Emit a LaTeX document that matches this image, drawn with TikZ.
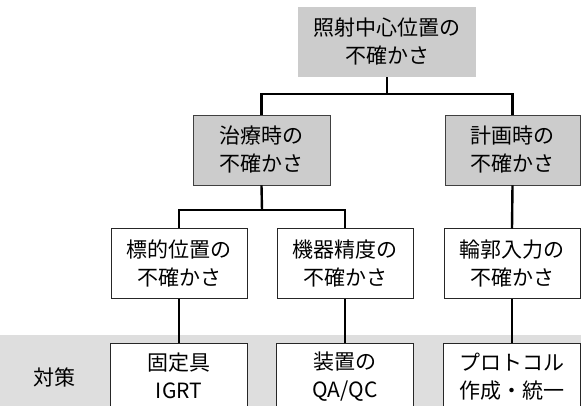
\documentclass[tikz,border=0pt]{standalone}
\usepackage{fontspec}
\setmainfont{Noto Sans CJK JP}
\begin{document}
\begin{tikzpicture}[x=1pt,y=-1pt,
  every node/.style={font=\fontsize{21}{28}\selectfont, align=center, inner sep=0pt},
  greybox/.style={rectangle, fill=black!20, minimum width=#1, minimum height=70pt},
  greyframe/.style={greybox=#1, draw=black!75, line width=0.8pt},
  whitebox/.style={rectangle, fill=white, draw=black!85, line width=1pt, minimum width=#1, minimum height=69pt},
  openbox/.style={rectangle, fill=white, minimum width=#1, minimum height=66pt, anchor=north},
  conn/.style={draw=black, line width=2.4pt},
  side/.style={draw=black!85, line width=1pt}]
\useasboundingbox (0,0) rectangle (581,406);
\clip (0,0) rectangle (581,406);
\fill[white] (0,0) rectangle (581,406);
% bottom band
\fill[black!13] (0,335) rectangle (581,406);
% nodes
\node[greybox=178pt] (top) at (387,42) {照射中心位置の\\不確かさ};
\node[greyframe=137pt] (chiryo) at (261.5,150) {治療時の\\不確かさ};
\node[greyframe=135pt] (keikaku) at (512.5,150) {計画時の\\不確かさ};
\node[whitebox=136pt] (hyoteki) at (179,263.5) {標的位置の\\不確かさ};
\node[whitebox=136pt] (kiki) at (345,263.5) {機器精度の\\不確かさ};
\node[whitebox=136pt] (rinkaku) at (512,263.5) {輪郭入力の\\不確かさ};
\node (taisaku) at (55,377) {対策};
\node[openbox=136pt] (kotei) at (179,343) {固定具\\IGRT};
\node[openbox=136pt] (sochi) at (345,343) {装置の\\QA/QC};
\node[openbox=136pt] (proto) at (512,343) {プロトコル\\作成・統一};
% open box sides
\foreach \b in {kotei,sochi,proto}{
  \draw[side] ([yshift=-6pt]\b.south west) -- (\b.north west) -- (\b.north east) -- ([yshift=-6pt]\b.south east);
}
% connectors
\coordinate (j1) at (387,94);
\coordinate (j2) at (262,210);
\draw[conn] (top.south) -- (j1);
\draw[conn] (j1) -| (chiryo.north);
\draw[conn] (j1) -| (keikaku.north);
\draw[conn] (chiryo.south) -- (j2);
\draw[conn] (j2) -| (hyoteki.north);
\draw[conn] (j2) -| (kiki.north);
\draw[conn] (keikaku.south) -- (rinkaku.north);
\draw[conn] (hyoteki.south) -- (kotei.north);
\draw[conn] (kiki.south) -- (sochi.north);
\draw[conn] (rinkaku.south) -- (proto.north);
\end{tikzpicture}
\end{document}
